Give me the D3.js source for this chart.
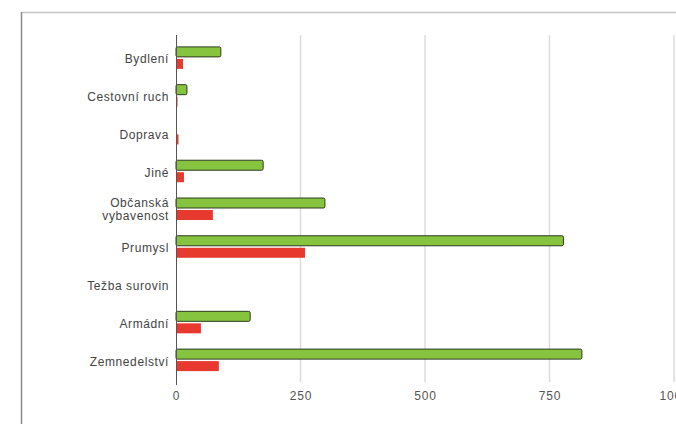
<!DOCTYPE html>
<html><head><meta charset="utf-8">
<script src="https://cdn.jsdelivr.net/npm/d3@7"></script>
<style>body{margin:0;background:#fff}svg{display:block;font-family:"Liberation Sans",Arial,sans-serif}</style>
</head><body><svg id="c" width="676" height="424"></svg>
<script>
const categories = ["Bydlení","Cestovní ruch","Doprava","Jiné","Občanská vybavenost","Prumysl","Težba surovin","Armádní","Zemnedelství"];
const greenValues = [92, 24, 0, 177, 301, 780, 0, 151, 817];
const redValues = [14, 3, 5, 16, 74, 259, 1, 50, 86];
const xTicks = [0, 250, 500, 750, 1000];
const xTickLabels = ["0", "250", "500", "750", "1000"];

const svg = d3.select("#c");
const x = d3.scaleLinear().domain([0, 1000]).range([176, 674]);
const y = d3.scaleBand().domain(categories).range([39, 379]);

// frame
svg.append("line").attr("x1",21.5).attr("x2",676).attr("y1",12.5).attr("y2",12.5).attr("stroke","#c4c4c4").attr("stroke-width",1.5);
svg.append("line").attr("x1",21.5).attr("x2",21.5).attr("y1",12).attr("y2",424).attr("stroke","#8a8a8a").attr("stroke-width",1.5);

// gridlines
svg.append("g").selectAll("line").data(xTicks.slice(1)).join("line")
  .attr("x1",d=>x(d)).attr("x2",d=>x(d)).attr("y1",35).attr("y2",382)
  .attr("stroke","#dcdcdc").attr("stroke-width",1.5);

// x axis labels
const xAxis = d3.axisBottom(x).tickValues(xTicks).tickFormat((d,i)=>xTickLabels[i]).tickSize(0).tickPadding(0);
const gx = svg.append("g").attr("transform","translate(0,391)").call(xAxis);
gx.select(".domain").remove();
gx.selectAll("text").attr("fill","#555").attr("font-size",12).attr("letter-spacing","0.8px").attr("dy","0.71em");

const bh = 10, gap = 2;
const cy = d => y(d) + y.bandwidth()/2;

// red bars
svg.append("g").selectAll("rect").data(categories).join("rect")
  .attr("x",x(0)).attr("y",d=>cy(d)+gap/2)
  .attr("width",(d,i)=>x(redValues[i])-x(0)).attr("height",bh)
  .attr("fill","#e8392f");

// green bars
svg.append("g").selectAll("rect").data(categories).join("rect")
  .attr("x",x(0)).attr("y",d=>cy(d)-gap/2-bh)
  .attr("width",(d,i)=>Math.max(0,x(greenValues[i])-x(0)-1)).attr("height",bh)
  .attr("fill","#86c440")
  .attr("stroke",(d,i)=>greenValues[i]>0?"#2e3a1e":"none").attr("stroke-width",1)
  .attr("rx",1.5);

// y axis line
svg.append("line").attr("x1",x(0)+0.5).attr("x2",x(0)+0.5).attr("y1",35).attr("y2",385).attr("stroke","#555").attr("stroke-width",1);

// category labels
const yAxis = d3.axisLeft(y).tickSize(0).tickPadding(7);
const gy = svg.append("g").attr("transform",`translate(${x(0)},0)`).call(yAxis);
gy.select(".domain").remove();
gy.selectAll("text").attr("fill","#444").attr("font-size",12).attr("letter-spacing","0.6px").attr("dy","0.45em")
  .each(function(d){
    const t = d3.select(this);
    const words = d.split(" ");
    if (d.length > 15) {
      t.text(null).attr("dy",null);
      t.append("tspan").attr("x",-7).attr("dy","-0.2em").text(words[0]);
      t.append("tspan").attr("x",-7).attr("dy","1.1em").text(words.slice(1).join(" "));
    }
  });
</script></body></html>
